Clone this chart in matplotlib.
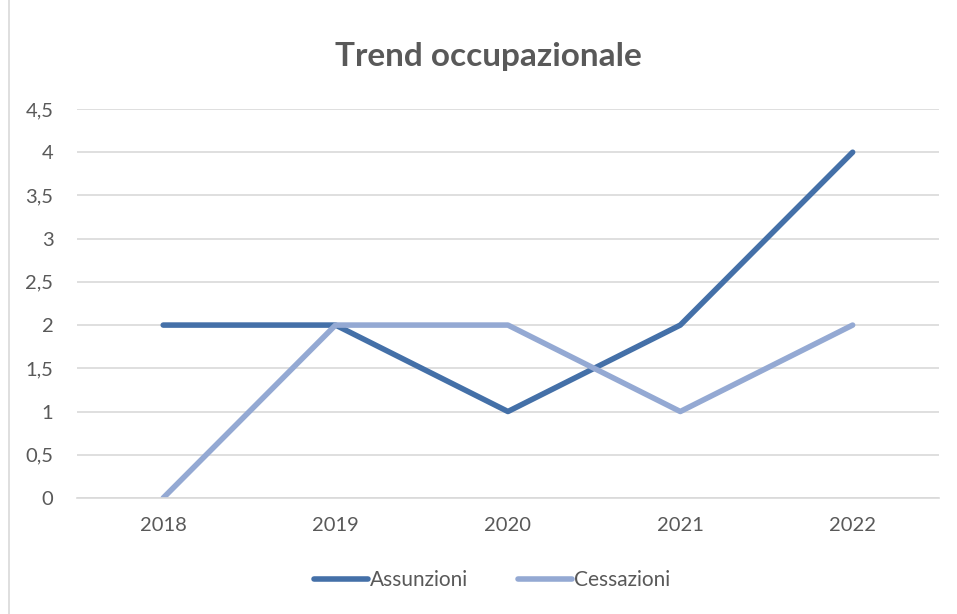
#Used for making plots
import matplotlib.pyplot as plt
from matplotlib.ticker import FuncFormatter
from matplotlib.patches import Rectangle

#Data
anni = ['2018', '2019', '2020', '2021', '2022']
assunzioni = [2, 2, 1, 2, 4]
cessazioni = [0, 2, 2, 1, 2]

plt.rcParams['font.family'] = ['Lato', 'DejaVu Sans']

fig = plt.figure(figsize=(9.57, 6.14), dpi=100)
ax = fig.add_axes([0.0805, 0.189, 0.9005, 0.6335])

#Light border round the chart area
fig.patches.append(Rectangle((0.009, -0.01), 0.995, 1.02, transform=fig.transFigure,
                             fill=False, edgecolor='#d9d9d9', linewidth=1.2))

x = range(len(anni))
ax.plot(x, assunzioni, color='#4470a8', linewidth=4, solid_capstyle='round', label='Assunzioni')
ax.plot(x, cessazioni, color='#94a9d3', linewidth=4, solid_capstyle='round', label='Cessazioni')

ax.set_xlim(-0.5, len(anni) - 0.5)
ax.set_ylim(0, 4.5)
ax.set_yticks([0, 0.5, 1, 1.5, 2, 2.5, 3, 3.5, 4, 4.5])
ax.yaxis.set_major_formatter(FuncFormatter(lambda v, p: ('%g' % v).replace('.', ',')))
ax.set_xticks(list(x))
ax.set_xticklabels(anni)

ax.grid(axis='y', color='#d9d9d9', linewidth=1.2)
ax.set_axisbelow(True)
for s in ['top', 'right', 'left']:
    ax.spines[s].set_visible(False)
ax.spines['bottom'].set_color('#d9d9d9')
ax.spines['bottom'].set_linewidth(1.2)
ax.tick_params(axis='both', length=0, colors='#595959', labelsize=14.5)
ax.tick_params(axis='y', pad=17)
ax.tick_params(axis='x', pad=14)

fig.text(0.51, 0.908, 'Trend occupazionale', ha='center', va='center',
         fontsize=24, fontweight='bold', color='#595959')

fig.legend(loc='center', bbox_to_anchor=(0.514, 0.055), ncol=2, frameon=False,
           fontsize=15, labelcolor='#595959', handlelength=2.6, handletextpad=0.1,
           columnspacing=2.4)

fig.savefig('out.png', dpi=100)
